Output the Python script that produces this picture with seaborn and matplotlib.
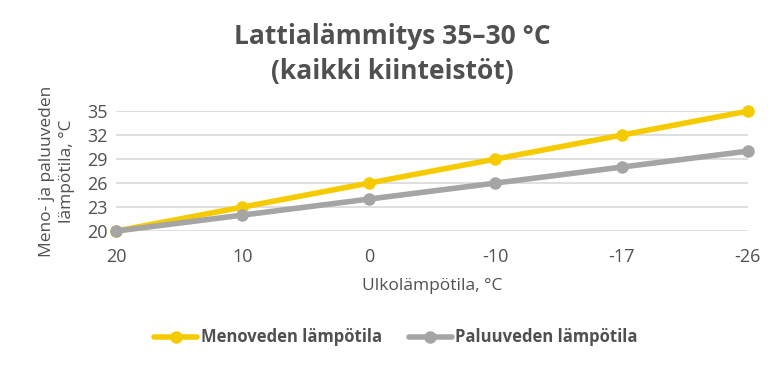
import matplotlib
matplotlib.use("Agg")
import matplotlib.pyplot as plt
import seaborn as sns
import pandas as pd

outdoor = ["20", "10", "0", "-10", "-17", "-26"]
supply = [20, 23, 26, 29, 32, 35]
ret = [20, 22, 24, 26, 28, 30]
yticks = [20, 23, 26, 29, 32, 35]

YELLOW = "#F5CB00"
GREY = "#A5A5A5"
TEXT = "#505050"

sns.set_theme(style="white")
plt.rcParams["font.family"] = ["Open Sans", "DejaVu Sans"]

df = pd.DataFrame({
    "outdoor": outdoor * 2,
    "temp": supply + ret,
    "series": ["Menoveden lämpötila"] * len(outdoor) + ["Paluuveden lämpötila"] * len(outdoor),
})

fig = plt.figure(figsize=(7.84, 3.68), dpi=100)
ax = fig.add_axes([0.148, 0.372, 0.806, 0.326])

sns.lineplot(data=df, x="outdoor", y="temp", hue="series", sort=False,
             palette=[YELLOW, GREY], marker="o", markersize=9, markeredgewidth=0,
             linewidth=4, ax=ax, legend=True)

ax.set_ylim(20, 35)
ax.set_xlim(0, len(outdoor) - 1)
ax.set_yticks(yticks)
ax.yaxis.grid(True, color="#D9D9D9", linewidth=1.2)
ax.set_axisbelow(True)
for s in ax.spines.values():
    s.set_visible(False)
for line in ax.lines:
    line.set_clip_on(False)
ax.tick_params(axis="both", labelsize=13, colors=TEXT, length=0)
ax.tick_params(axis="x", pad=12)
ax.tick_params(axis="y", pad=6)

ax.set_xlabel("Ulkolämpötila, °C", fontsize=12.5, color=TEXT, labelpad=9)
ax.set_ylabel("Meno- ja paluuveden\nlämpötila, °C", fontsize=12.5, color=TEXT,
              labelpad=9, linespacing=1.3)

fig.text(0.5, 0.853, "Lattialämmitys 35–30 °C\n(kaikki kiinteistöt)", ha="center",
         va="center", fontsize=19, fontweight="bold", color=TEXT, linespacing=1.35)

handles, labels = ax.get_legend_handles_labels()
ax.legend_.remove()
leg = fig.legend(handles, labels, loc="center", bbox_to_anchor=(0.505, 0.083), ncol=2,
                 frameon=False, fontsize=12, handlelength=2.6, columnspacing=1.6,
                 handletextpad=0.2)
for t in leg.get_texts():
    t.set_color(TEXT)
    t.set_fontweight("bold")

fig.savefig("out.png", dpi=100)
